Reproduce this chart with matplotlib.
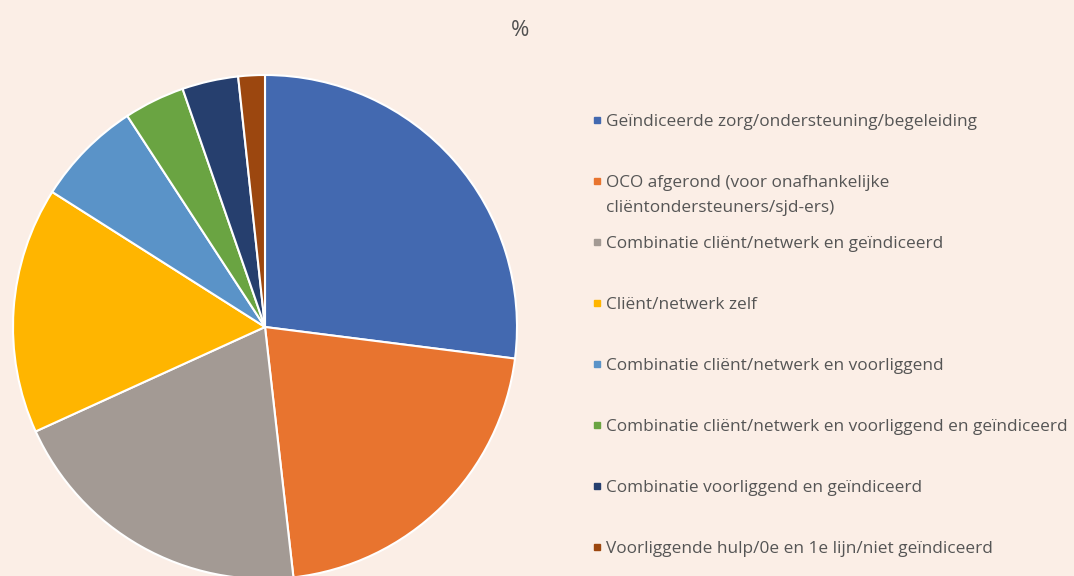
import matplotlib.pyplot as plt

# share per category (%)
labels = [
    "Geïndiceerde zorg/ondersteuning/begeleiding",
    "OCO afgerond (voor onafhankelijke\ncliëntondersteuners/sjd-ers)",
    "Combinatie cliënt/netwerk en geïndiceerd",
    "Cliënt/netwerk zelf",
    "Combinatie cliënt/netwerk en voorliggend",
    "Combinatie cliënt/netwerk en voorliggend en geïndiceerd",
    "Combinatie voorliggend en geïndiceerd",
    "Voorliggende hulp/0e en 1e lijn/niet geïndiceerd",
]
values = [27.0, 21.2, 20.0, 15.8, 6.8, 3.9, 3.6, 1.7]
colors = ["#4369B0", "#E8742F", "#A39A94", "#FFB500",
          "#5A93C8", "#6AA442", "#263F6E", "#9C470F"]

bg = "#FBEEE6"
W, H = 1074, 576

fig = plt.figure(figsize=(W / 100, H / 100), dpi=100, facecolor=bg)
ax = fig.add_axes([0, 0, 1, 1])
ax.set_facecolor(bg)
ax.set_xlim(0, W)
ax.set_ylim(0, H)
ax.set_aspect("equal")
ax.axis("off")

ax.pie(values, colors=colors, startangle=90, counterclock=False,
       center=(265, H - 327), radius=252,
       wedgeprops=dict(edgecolor="white", linewidth=1.5))
ax.set_xlim(0, W)
ax.set_ylim(0, H)

ax.text(520, H - 30, "%", fontsize=16, color="#505050",
        ha="center", va="center", family="Open Sans")

# legend drawn as a column of markers and texts, one line at a time
y0, step, line_h = 120, 61, 25
for i, (lab, col) in enumerate(zip(labels, colors)):
    y = H - (y0 + i * step)
    ax.plot(597, y, marker="s", markersize=4.5, color=col, ls="none")
    for k, line in enumerate(lab.split("\n")):
        ax.text(606, y - k * line_h, line, fontsize=12.4, color="#555555",
                va="center_baseline", ha="left", family="Open Sans")

fig.savefig("out.png", dpi=100, facecolor=bg)
